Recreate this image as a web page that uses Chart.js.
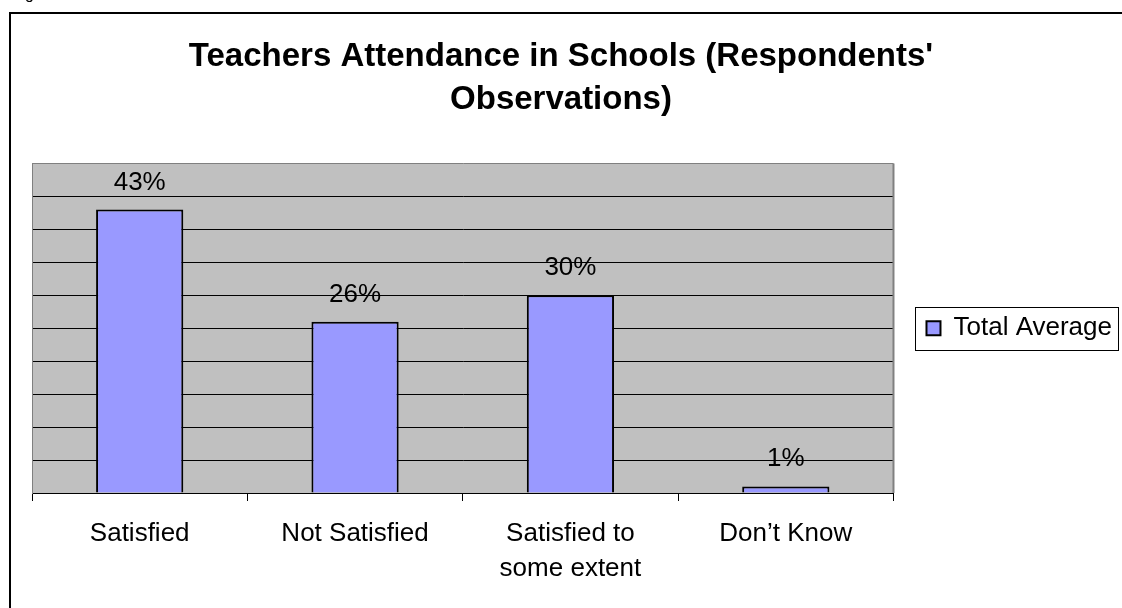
<!DOCTYPE html>
<html>
<head>
<meta charset="utf-8">
<script src="https://cdn.jsdelivr.net/npm/chart.js@4.4.1/dist/chart.umd.min.js"></script>
<style>
  html, body { margin: 0; padding: 0; background: #fff; overflow: hidden; }
  #wrap { position: relative; width: 1122px; height: 608px; overflow: hidden; }
  #attendanceChart { display: block; }
  #cut { position: absolute; left: 25px; top: -14px; font: 16px/16px 'Liberation Sans', Arial, sans-serif; color: #000; }
</style>
</head>
<body>
<div id="wrap">
  <canvas id="attendanceChart" width="1122" height="608"></canvas>
  <div id="cut">g</div>
</div>
<script>
var categories = ['Satisfied', 'Not Satisfied', ['Satisfied to', 'some extent'], 'Don\u2019t Know'];
var totalAverage = [43, 26, 30, 1];
var seriesName = 'Total Average';
var titleLines = ["Teachers Attendance in Schools (Respondents'", 'Observations)'];
var yMax = 50;
var yStep = 5;

Chart.defaults.font.family = "'Liberation Sans', Arial, sans-serif";
Chart.defaults.color = '#000';

// page border, grey plot area and its right edge, legend box outline
var frame = {
  id: 'frame',
  beforeDraw: function (chart) {
    var c = chart.ctx, a = chart.chartArea;
    c.save();
    c.fillStyle = '#fff';
    c.fillRect(0, 0, chart.width, chart.height);
    c.strokeStyle = '#000';
    c.lineWidth = 2;
    c.beginPath();
    c.moveTo(10, chart.height + 5);
    c.lineTo(10, 13);
    c.lineTo(chart.width + 5, 13);
    c.stroke();
    c.fillStyle = '#c0c0c0';
    c.fillRect(a.left, a.top, a.right - a.left, a.bottom - a.top);
    c.restore();
  },
  beforeDatasetsDraw: function (chart) {
    var c = chart.ctx, a = chart.chartArea;
    c.save();
    c.strokeStyle = '#808080';
    c.lineWidth = 2;
    c.beginPath();
    c.moveTo(a.right, a.top);
    c.lineTo(a.right, a.bottom);
    c.stroke();
    c.restore();
  },
  afterDraw: function (chart) {
    var hb = chart.legend.legendHitBoxes[0];
    if (!hb) return;
    var c = chart.ctx;
    c.save();
    c.strokeStyle = '#000';
    c.lineWidth = 1;
    var l = Math.round(hb.left - 11) + 0.5;
    var t = Math.round(hb.top - 8) + 0.5;
    var r = Math.round(hb.left + hb.width + 6) + 0.5;
    var b = Math.round(hb.top + hb.height + 9) + 0.5;
    c.strokeRect(l, t, r - l, b - t);
    c.restore();
  }
};

// percentage text above each bar
var valueLabels = {
  id: 'valueLabels',
  afterDatasetsDraw: function (chart) {
    var c = chart.ctx;
    var meta = chart.getDatasetMeta(0);
    var values = chart.data.datasets[0].data;
    c.save();
    c.font = "26px 'Liberation Sans', Arial, sans-serif";
    c.fillStyle = '#000';
    c.textAlign = 'center';
    c.textBaseline = 'alphabetic';
    meta.data.forEach(function (bar, i) {
      c.fillText(values[i] + '%', bar.x, bar.y - 20);
    });
    c.restore();
  }
};

new Chart(document.getElementById('attendanceChart'), {
  type: 'bar',
  data: {
    labels: categories,
    datasets: [{
      label: seriesName,
      data: totalAverage,
      backgroundColor: '#9999ff',
      borderColor: '#000',
      borderWidth: 2,
      categoryPercentage: 1,
      barPercentage: 0.405
    }]
  },
  options: {
    responsive: false,
    animation: false,
    events: [],
    layout: { padding: 0 },
    plugins: {
      title: {
        display: true,
        text: titleLines,
        color: '#000',
        font: { size: 33, weight: 'bold', lineHeight: 1.31 },
        padding: { top: 35, bottom: 42 }
      },
      legend: {
        position: 'right',
        fullSize: false,
        labels: {
          boxWidth: 14,
          boxHeight: 14,
          padding: 33,
          color: '#000',
          font: { size: 26 }
        }
      },
      tooltip: { enabled: false }
    },
    scales: {
      x: {
        grid: { drawOnChartArea: false, drawTicks: true, tickLength: 8, color: '#000', offset: true },
        border: { color: '#000', width: 1 },
        ticks: { color: '#000', font: { size: 26, lineHeight: 1.35 }, padding: 15, maxRotation: 0, autoSkip: false },
        afterFit: function (s) { s.height = 115; }
      },
      y: {
        min: 0,
        max: yMax,
        ticks: { display: false, stepSize: yStep },
        grid: {
          drawTicks: false,
          color: function (ctx) { return ctx.tick && ctx.tick.value === yMax ? '#808080' : '#000'; }
        },
        border: { color: '#808080', width: 1 },
        afterFit: function (s) { s.width = 32; }
      }
    }
  },
  plugins: [frame, valueLabels]
});
</script>
</body>
</html>
